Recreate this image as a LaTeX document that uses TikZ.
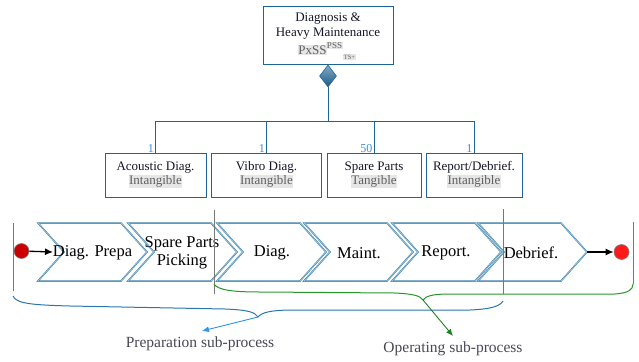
\documentclass[tikz,border=0pt]{standalone}
\usepackage{fontspec}
\setmainfont{Liberation Serif}
\usetikzlibrary{shapes.geometric,arrows.meta,calc}
\definecolor{boxblue}{RGB}{30,100,150}
\definecolor{chevblue}{RGB}{55,125,170}
\definecolor{chevlight}{RGB}{170,205,225}
\definecolor{numblue}{RGB}{60,140,220}
\definecolor{graytext}{RGB}{95,95,95}
\definecolor{graybg}{RGB}{230,230,230}
\definecolor{bracegreen}{RGB}{40,150,40}
\definecolor{braceblue}{RGB}{40,120,170}
\definecolor{arrowblue}{RGB}{50,150,230}
\definecolor{arrowgreen}{RGB}{30,130,30}
\definecolor{sepgray}{RGB}{120,120,120}
\definecolor{labgray}{RGB}{70,70,85}
\definecolor{boxtext}{RGB}{20,20,40}
\setlength{\fboxsep}{0.6pt}
\newcommand{\hl}[1]{\textcolor{graytext}{\colorbox{graybg}{#1}}}
\begin{document}
\begin{tikzpicture}[x=1pt,y=-1pt,
  parentbox/.style={draw=boxblue, line width=1pt, minimum width=130pt, minimum height=57pt, inner sep=0pt},
  childbox/.style={draw=boxblue, line width=1pt, minimum height=44pt, inner sep=0pt, align=center,
     font=\fontsize{13}{14}\selectfont, text=boxtext},
  bus/.style={draw=boxblue, line width=1pt},
  numlab/.style={text=numblue, font=\fontsize{12}{12}\selectfont, inner sep=0pt, anchor=south east},
  chev/.style={draw=chevblue, line width=0.5pt, double=chevlight, double distance=0.5pt, line join=miter},
  chevtext/.style={font=\fontsize{16.5}{18}\selectfont, align=center, inner sep=0pt, text=black},
  sep/.style={draw=sepgray, line width=1pt},
  flow/.style={draw=black, line width=1.3pt, -{Latex[length=8pt,width=7pt]}},
  sublab/.style={font=\fontsize{15.5}{17}\selectfont, text=labgray, inner sep=0pt}
]
\useasboundingbox (0,0) rectangle (639,361);

% parent
\node[parentbox] (top) at (328,35.5) {};
\node[font=\fontsize{13}{14}\selectfont, text=boxtext, inner sep=0pt] (t1) at (328,19) {Diagnosis \&};
\node[font=\fontsize{13}{14}\selectfont, text=boxtext, inner sep=0pt] (t2) at (328,33.5) {Heavy Maintenance};
\node[font=\fontsize{13}{14}\selectfont, inner sep=0pt] (t3) at (312.5,50) {\hl{PxSS}};
\node[font=\fontsize{9}{9}\selectfont, inner sep=0pt] (t4) at (334.5,45.5) {\hl{PSS}};
\node[font=\fontsize{6.5}{7}\selectfont, inner sep=0pt] (t5) at (349.5,57) {\hl{TS+}};
\node[diamond, draw=boxblue, line width=0.6pt, top color=boxblue!55!white, bottom color=boxblue!90!black,
      minimum width=17pt, minimum height=22pt, inner sep=0pt] (dia) at (328,76) {};
\coordinate (busc) at (328,121);

% children
\node[childbox, minimum width=101pt] (acou) at (155.5,175) {Acoustic Diag.\\\hl{Intangible}};
\node[childbox, minimum width=110pt] (vibro) at (266.5,175) {Vibro Diag.\\\hl{Intangible}};
\node[childbox, minimum width=94pt] (spare) at (374,175) {Spare Parts\\\hl{Tangible}};
\node[childbox, minimum width=96pt] (report) at (474,175) {Report/Debrief.\\\hl{Intangible}};

\draw[bus] (dia.south) -- (busc);
\draw[bus] (acou.north) |- (busc);
\draw[bus] (vibro.north) |- (busc);
\draw[bus] (spare.north) |- (busc);
\draw[bus] (report.north) |- (busc);

\node[numlab] (n1) at ([xshift=-1.5pt]acou.north) {1};
\node[numlab] (n2) at ([xshift=-1.5pt]vibro.north) {1};
\node[numlab] (n3) at ([xshift=-1.5pt]spare.north) {50};
\node[numlab] (n4) at ([xshift=-1.5pt]report.north) {1};

% chevrons
\foreach \x in {38,128,217,304,392,478} {
  \draw[chev] (\x,223) -- (\x+83,223) -- (\x+109,252) -- (\x+83,281) -- (\x,281) -- (\x+26,252) -- cycle;
}
\node[chevtext] (c1) at (92.5,253) {Diag. Prepa};
\node[chevtext] (c2) at (182,252.5) {Spare Parts\\Picking};
\node[chevtext] (c3) at (272,253) {Diag.};
\node[chevtext] (c4) at (359,253) {Maint.};
\node[chevtext] (c5) at (446,253) {Report.};
\node[chevtext] (c6) at (531,253) {Debrief.};

% separators
\draw[sep] (13,223) -- (13,291);
\draw[sep] (214,210) -- (214,294);
\draw[sep] (503,209) -- (503,294);
\draw[sep] (633,222) -- (633,284);

% start / end
\node[circle, fill=red!80!black, draw=gray, line width=0.6pt, minimum size=15pt, inner sep=0pt] (start) at (21.5,251) {};
\coordinate (c1in) at (53,252);
\draw[flow] (start) -- (c1in);
\coordinate (c6out) at (587,252);
\node[circle, fill=red!90!white, draw=gray, line width=0.6pt, minimum size=15pt, inner sep=0pt] (stop) at (621.5,252) {};
\draw[flow] (c6out) -- (stop);

% braces
\coordinate (btip) at (258,317);
\coordinate (gtip) at (423,300);
\draw[braceblue, line width=1pt] (13,296) .. controls (16,304) and (35,305) .. (70,306)
   -- (225,309) .. controls (248,310) and (255,312) .. (btip)
   .. controls (262,312) and (272,310) .. (295,310) -- (470,310)
   .. controls (492,309) and (500,306) .. (503,301);
\draw[bracegreen, line width=1pt] (214,284) .. controls (218,290) and (232,292) .. (260,292)
   -- (395,293) .. controls (415,294) and (420,296) .. (gtip)
   .. controls (426,296) and (432,294) .. (450,294) -- (615,294)
   .. controls (628,293) and (633,290) .. (633,284);

% labels
\node[sublab] (prep) at (200,344) {Preparation sub-process};
\node[sublab] (oper) at (453,349) {Operating sub-process};
\coordinate (pa) at (202,331);
\coordinate (oa) at (453,336);
\draw[arrowblue, line width=0.9pt, -{Latex[length=7pt,width=6pt]}] (btip) -- (pa);
\draw[arrowgreen, line width=0.9pt, -{Latex[length=7pt,width=6pt]}] (gtip) -- (oa);
\end{tikzpicture}
\end{document}
